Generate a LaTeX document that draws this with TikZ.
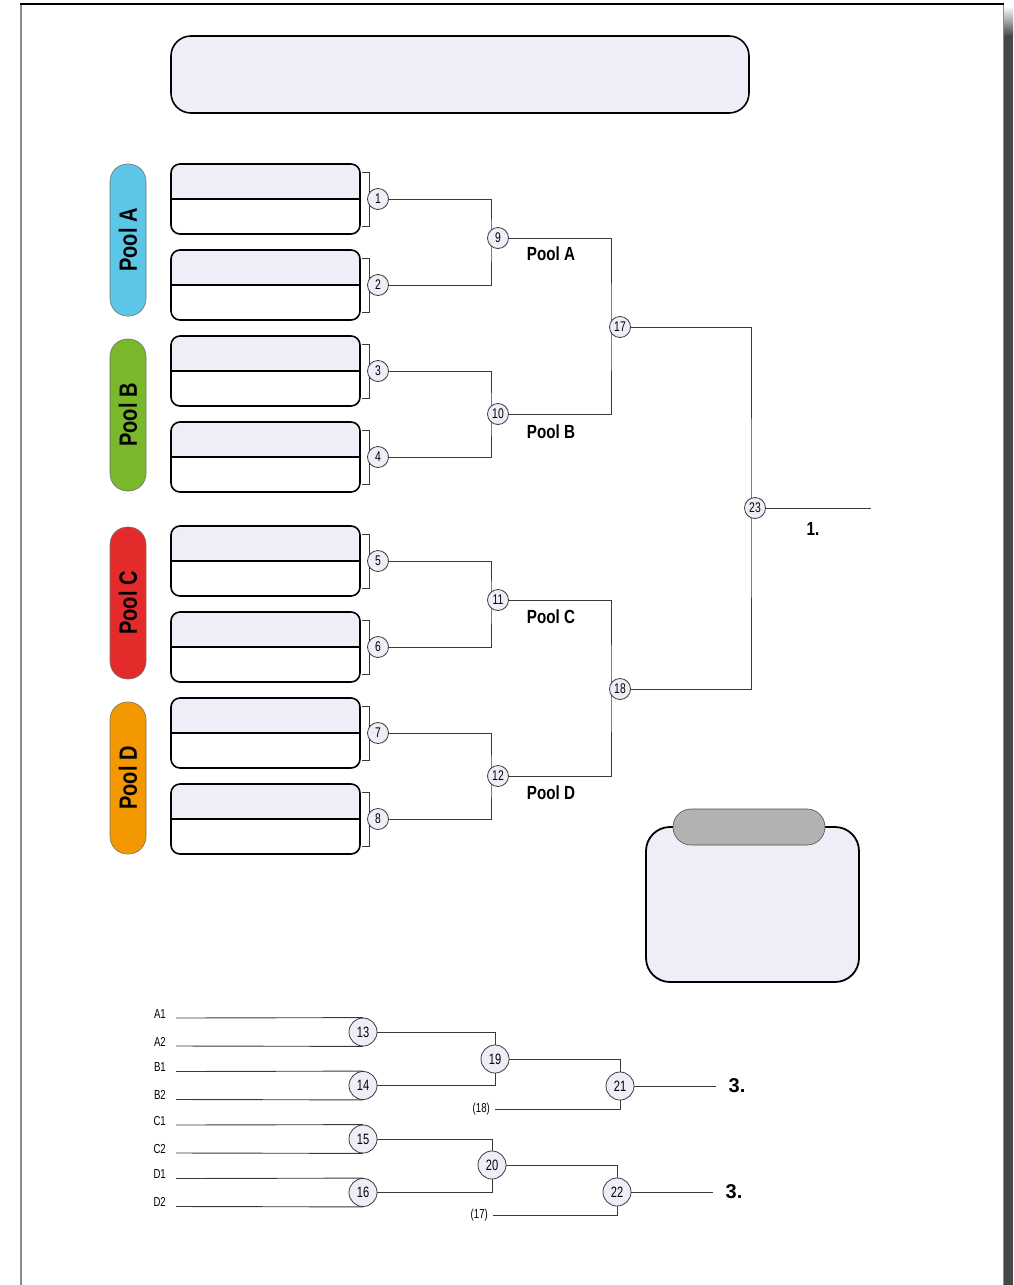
\documentclass[tikz,border=0pt]{standalone}
\usepackage{fontspec}
\setmainfont{Liberation Sans}
\newfontfamily\condfont[FakeStretch=0.74]{Liberation Sans}
\newfontfamily\poolfont[FakeStretch=0.8]{Liberation Sans}
\usepackage{tikz}
\definecolor{lav}{HTML}{EFEEF8}
\definecolor{poolA}{HTML}{5CC6E6}
\definecolor{poolB}{HTML}{78B82A}
\definecolor{poolC}{HTML}{E32B2B}
\definecolor{poolD}{HTML}{F39800}
\definecolor{wire}{HTML}{3A3A3A}
\definecolor{shadowx}{HTML}{474747}
\tikzset{
  seed/.style={circle,draw=wire,fill=lav,line width=.8pt,inner sep=0pt,minimum size=21pt,
    font=\condfont\fontsize{14}{14}\selectfont},
  seedbig/.style={seed,minimum size=28pt,font=\condfont\fontsize{15}{15}\selectfont},
  wirex/.style={wire,line width=.9pt},
  poollbl/.style={font=\poolfont\bfseries\fontsize{19}{19}\selectfont},
  slotlbl/.style={anchor=base east,inner sep=0pt,font=\condfont\fontsize{13}{13}\selectfont},
  placelbl/.style={font=\bfseries\fontsize{20}{20}\selectfont},
}

\begin{document}
\begin{tikzpicture}[x=1pt,y=-1pt]
\useasboundingbox (0,0) rectangle (1013,1285);
% sheet
\fill[white] (0,0) rectangle (1013,1285);
\shade[top color=white,bottom color=shadowx] (1004,6) rectangle (1013,36);
\fill[shadowx] (1004,36) rectangle (1013,1285);
\draw[black!45,line width=1.5pt] (21,4) -- (21,1285);
\draw[black!45,line width=1pt] (1003,4) -- (1003,1285);
\draw[black,line width=1.3pt] (20.25,4) -- (1003.5,4);

% title
\draw[fill=lav,line width=1.6pt,rounded corners=20] (171,36) rectangle (749,113);

% pool pills
\foreach \p/\col/\y in {A/poolA/164,B/poolB/339,C/poolC/527,D/poolD/702}{
  \draw[fill=\col,draw=black!55,line width=.6pt,rounded corners=17.5] (110,\y) rectangle (146,\y+152);
  \node[rotate=90,font=\poolfont\bfseries\fontsize{25}{25}\selectfont] (pool\p) at (128,\y+76) {Pool \p};
}

% team slots
\foreach \n/\t in {1/164,2/250,3/336,4/422,5/526,6/612,7/698,8/784}{
  \begin{scope}
    \clip[rounded corners=9] (171,\t) rectangle (360,\t+70);
    \fill[lav] (171,\t) rectangle (360,\t+35);
  \end{scope}
  \draw[line width=1.6pt,rounded corners=9] (171,\t) rectangle (360,\t+70);
  \draw[line width=1.6pt] (171,\t+35) -- (360,\t+35);
  \draw[wire,line width=.8pt] (362,\t+8) -| (369,\t+62) -- (362,\t+62);
  \node[seed] (s\n) at (378,\t+35) {\n};
}

% quarter finals
\foreach \a/\b/\j/\y in {1/2/9/238,3/4/10/414,5/6/11/600,7/8/12/776}{
  \coordinate (j\j) at (491,\y);
  \draw[wirex] (s\a) -| (j\j) |- (s\b);
  \node[seed] (s\j) at (498,\y) {\j};
}
\node[poollbl] (lblA) at (551,254) {Pool A};
\node[poollbl] (lblB) at (551,432) {Pool B};
\node[poollbl] (lblC) at (551,617) {Pool C};
\node[poollbl] (lblD) at (551,793) {Pool D};

% semi finals
\foreach \a/\b/\j/\y in {9/10/17/327,11/12/18/689}{
  \coordinate (j\j) at (611,\y);
  \draw[wirex] (s\a) -| (j\j) |- (s\b);
  \node[seed] (s\j) at (620,\y) {\j};
}

% final
\coordinate (j23) at (751,508);
\draw[wirex] (s17) -| (j23) |- (s18);
\node[seed] (s23) at (755,508) {23};
\coordinate (win) at (871,508);
\draw[wirex] (s23) -- (win);
\node[font=\poolfont\bfseries\fontsize{19}{19}\selectfont] (first) at (813,529) {1.};

% notes box
\draw[fill=lav,line width=1.8pt,rounded corners=24] (646,827) rectangle (859,982);
\draw[fill=black!30,draw=black!70,line width=.6pt,rounded corners=18] (673,809) rectangle (825,845);

% consolation bracket
\foreach \u/\v/\n/\y in {A1/A2/13/1032,B1/B2/14/1085.5,C1/C2/15/1139,D1/D2/16/1192.5}{
  \node[seedbig] (s\n) at (363,\y) {\n};
  \node[slotlbl] (l\u) at (166,\y-14) {\u};
  \node[slotlbl] (l\v) at (166,\y+14) {\v};
  \draw[wirex] ([xshift=10pt]l\u.base east) -- (s\n.north);
  \draw[wirex] ([xshift=10pt]l\v.base east) -- (s\n.south);
}
\node[seedbig] (s19) at (495,1059) {19};
\node[seedbig] (s20) at (492,1165) {20};
\node[seedbig] (s21) at (620,1086) {21};
\node[seedbig] (s22) at (617,1192) {22};
\draw[wirex] (s13) -| (s19);
\draw[wirex] (s14) -| (s19);
\draw[wirex] (s15) -| (s20);
\draw[wirex] (s16) -| (s20);
\draw[wirex] (s19) -| (s21);
\draw[wirex] (s20) -| (s22);
\node[slotlbl,anchor=east] (l18) at (490,1109) {(18)};
\node[slotlbl,anchor=east] (l17) at (488,1215) {(17)};
\draw[wirex] ([xshift=5pt]l18.east) -| (s21);
\draw[wirex] ([xshift=5pt]l17.east) -| (s22);
\coordinate (thirdA) at (716,1086);
\coordinate (thirdB) at (713,1192);
\draw[wirex] (s21) -- (thirdA);
\draw[wirex] (s22) -- (thirdB);
\node[placelbl] (placeA) at (737,1086) {3.};
\node[placelbl] (placeB) at (734,1192) {3.};
\end{tikzpicture}
\end{document}
